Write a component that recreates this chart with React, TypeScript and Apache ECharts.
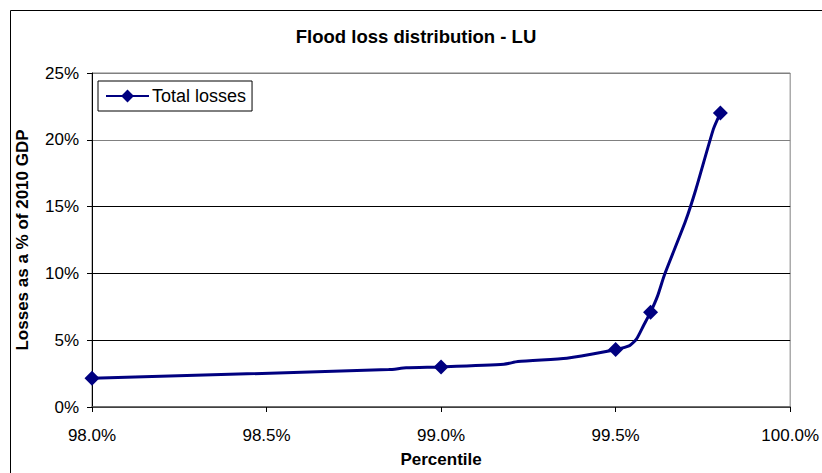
import React, { useEffect, useRef } from "react";
import * as echarts from "echarts";

const percentiles = [98.0, 98.85, 98.9, 99.0, 99.18, 99.22, 99.36, 99.43, 99.5, 99.54, 99.56, 99.58, 99.6, 99.62, 99.64, 99.7, 99.73, 99.78, 99.8];
const losses = [2.15, 2.8, 2.93, 3.0, 3.2, 3.4, 3.65, 3.95, 4.3, 4.6, 5.1, 6.1, 7.1, 8.3, 9.9, 13.9, 16.3, 20.8, 22.0];
const markedPercentiles = [98.0, 99.0, 99.5, 99.6, 99.8];
const seriesName = "Total losses";
const titleText = "Flood loss distribution - LU";
const xAxisName = "Percentile";
const yAxisName = "Losses as a % of 2010 GDP";

const FONT = "'Liberation Sans', Arial, sans-serif";

export default function App() {
  const ref = useRef<HTMLDivElement>(null);
  useEffect(() => {
    if (!ref.current) return;
    const chart = echarts.init(ref.current, undefined, { renderer: "svg" });
    const data = percentiles.map((p, i) =>
      markedPercentiles.includes(p)
        ? { value: [p, losses[i]] }
        : { value: [p, losses[i]], symbol: "none" }
    );
    chart.setOption({
      animation: false,
      backgroundColor: "#ffffff",
      title: {
        text: titleText,
        left: 411,
        top: 22,
        textAlign: "center",
        textStyle: { fontFamily: FONT, fontSize: 18.5, fontWeight: "bold", color: "#000" },
      },
      legend: {
        left: 98,
        top: 81,
        orient: "vertical",
        padding: [6, 6, 6, 7],
        borderColor: "#000",
        borderWidth: 1,
        itemWidth: 43,
        itemHeight: 16,
        itemGap: 0,
        textStyle: { fontFamily: FONT, fontSize: 18, color: "#000", padding: [0, 0, 0, -2] },
        data: [seriesName],
      },
      grid: {
        left: 92,
        right: 30,
        top: 73,
        bottom: 62,
        show: true,
        borderColor: "#808080",
        borderWidth: 1,
      },
      xAxis: {
        type: "value",
        min: 98,
        max: 100,
        interval: 0.5,
        name: xAxisName,
        nameLocation: "middle",
        nameGap: 44,
        nameTextStyle: { fontFamily: FONT, fontSize: 17, fontWeight: "bold", color: "#000" },
        axisLine: { show: true, lineStyle: { color: "#555", width: 1.5 } },
        axisTick: { show: true, inside: false, length: 5, lineStyle: { color: "#000" } },
        axisLabel: {
          margin: 20,
          fontFamily: FONT,
          fontSize: 17,
          color: "#000",
          formatter: (v: number) => v.toFixed(1) + "%",
        },
        splitLine: { show: false },
      },
      yAxis: {
        type: "value",
        min: 0,
        max: 25,
        interval: 5,
        name: yAxisName,
        nameLocation: "middle",
        nameGap: 61,
        nameRotate: 90,
        nameTextStyle: { fontFamily: FONT, fontSize: 17, fontWeight: "bold", color: "#000" },
        axisLine: { show: true, lineStyle: { color: "#000", width: 1 } },
        axisTick: { show: true, inside: false, length: 5, lineStyle: { color: "#000" } },
        axisLabel: {
          margin: 13,
          fontFamily: FONT,
          fontSize: 17,
          color: "#000",
          formatter: (v: number) => v + "%",
        },
        splitLine: {
          show: true,
          lineStyle: { color: ["#000", "#000", "#000", "#000", "#808080", "#808080"], width: 1 },
        },
      },
      graphic: [
        {
          type: "rect",
          shape: { x: 10.5, y: 10.5, width: 840, height: 500 },
          style: { fill: "none", stroke: "#000", lineWidth: 1 },
          silent: true,
        },
      ],
      series: [
        {
          name: seriesName,
          type: "line",
          data,
          smooth: 0.2,
          symbol: "diamond",
          symbolSize: 15,
          showAllSymbol: true,
          lineStyle: { color: "#000080", width: 3 },
          itemStyle: { color: "#000080" },
          z: 5,
        },
      ],
    });
    return () => chart.dispose();
  }, []);
  return (
    <div
      ref={ref}
      style={{ position: "fixed", left: 0, top: 0, width: 822, height: 473 }}
    />
  );
}
